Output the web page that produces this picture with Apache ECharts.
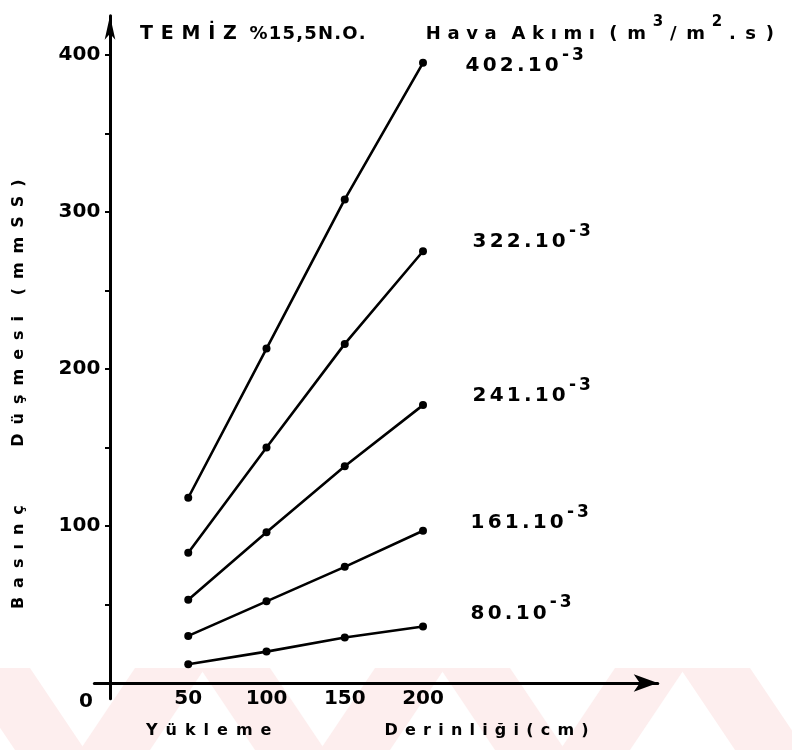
<!DOCTYPE html>
<html>
<head>
<meta charset="utf-8">
<script src="https://cdn.jsdelivr.net/npm/echarts@6/dist/echarts.min.js"></script>
<style>
  html, body { margin: 0; padding: 0; background: #fff; }
  #chart { width: 792px; height: 750px; }
</style>
</head>
<body>
<div id="chart"></div>
<script>
// Yükleme derinliği (cm)
const depths = [50, 100, 150, 200];
// Hava akımı etiketleri (x 10^-3 m3/m2.s)
const flowRates = ['402', '322', '241', '161', '80'];
// Basınç düşmesi (mmSS) her hava akımı için
const dp402 = [118, 213, 308, 395];
const dp322 = [83, 150, 216, 275];
const dp241 = [53, 96, 138, 177];
const dp161 = [30, 52, 74, 97];
const dp80 = [12, 20, 29, 36];
const pressureSets = [dp402, dp322, dp241, dp161, dp80];
// Eksen etiketleri
const xTickValues = [50, 100, 150, 200];
const yLabelValues = [100, 200, 300, 400];
const yTickValues = [50, 100, 150, 200, 250, 300, 350, 400];

const FONT = 'DejaVu Sans';
const INK = '#000';

// split a string into one rich token per character so letters can be tracked apart
const track = (s, cls) => Array.from(s).map(c => '{' + cls + '|' + c + '}').join('');

const letter = (size, pad, lh) => ({
  fontFamily: FONT, fontWeight: 'bold', fontSize: size, color: INK,
  padding: [0, pad, 0, pad], lineHeight: lh
});
const sup = (size, lh, pad) => ({
  fontFamily: FONT, fontWeight: 'bold', fontSize: size, color: INK,
  verticalAlign: 'top', lineHeight: lh, padding: [0, pad || 0, 0, pad || 0]
});

// end-label nudges for each curve [dx, dy]
const labelNudge = [[33, 3], [40, -9], [40, -9], [38, -8], [38, -13]];

const series = pressureSets.map((vals, i) => ({
  type: 'line',
  name: flowRates[i] + '.10-3',
  data: depths.map((d, k) => [d, vals[k]]),
  symbol: 'circle',
  symbolSize: 8,
  lineStyle: { color: INK, width: 2.6 },
  itemStyle: { color: INK },
  endLabel: {
    show: true,
    offset: labelNudge[i],
    formatter: () => track(flowRates[i] + '.10', 'n') + track('-3', 's'),
    rich: { n: letter(20, 1.6, 38), s: sup(17, 17, 1.5) }
  },
  z: 3
}));

// faint diagonal bands along the bottom edge of the sheet
const bands = [];
for (let k = 0; k < 4; k++) {
  const x0 = -40 + 240 * k;
  bands.push({
    type: 'polygon', silent: true, z: -10,
    shape: { points: [[x0, 668], [x0 + 70, 668], [x0 + 125, 750], [x0 + 55, 750]] },
    style: { fill: '#fdeeee' }
  });
  bands.push({
    type: 'polygon', silent: true, z: -10,
    shape: { points: [[x0 + 175, 668], [x0 + 245, 668], [x0 + 190, 750], [x0 + 120, 750]] },
    style: { fill: '#fdeeee' }
  });
}

const chart = echarts.init(document.getElementById('chart'), null, { renderer: 'canvas' });
chart.setOption({
  animation: false,
  backgroundColor: '#fff',
  title: {
    left: 131,
    top: 10,
    text: track('TEMİZ', 'c') + '{g| }' + track('%15,5N.O.', 't') + '{w| }' +
          track('Hava', 'h') + '{g| }' + track('Akımı', 'h') + '{k| }' +
          track('(m', 'p') + '{s|3}' + track('/m', 'p') + '{s|2}' + track('.s)', 'p'),
    textStyle: {
      rich: {
        c: letter(19, 3.9, 38),
        t: letter(18, 0.6, 38),
        h: letter(18, 3.3, 38),
        p: letter(18, 4.8, 38),
        g: letter(18, 1, 38),
        w: letter(18, 25, 38),
        k: letter(18, 0, 38),
        s: sup(15, 15, 2)
      }
    }
  },
  grid: {
    left: 94.35,
    top: 15.75,
    width: 563.4,
    height: 682.95,
    containLabel: false,
    outerBoundsMode: 'none'
  },
  xAxis: {
    type: 'value',
    min: -10,
    max: 350,
    name: track('Yükleme', 'a') + '{gap| }' + track('Derinliği(cm)', 'b'),
    nameLocation: 'middle',
    nameGap: 22,
    nameMoveOverlap: false,
    nameTextStyle: {
      padding: [0, 18, 0, 0],
      rich: {
        a: letter(16, 4, 20),
        b: letter(16, 3.6, 20),
        gap: letter(16, 50, 20)
      }
    },
    axisLine: {
      onZero: true,
      lineStyle: { color: INK, width: 3 },
      symbol: ['none', 'arrow'],
      symbolSize: [13, 24]
    },
    axisTick: { show: false },
    splitLine: { show: false },
    axisLabel: {
      customValues: xTickValues,
      margin: -10,
      color: INK,
      fontFamily: FONT,
      fontWeight: 'bold',
      fontSize: 20
    }
  },
  yAxis: {
    type: 'value',
    min: -10,
    max: 425,
    name: track('Basınç', 'a') + '{gap| }' + track('Düşmesi', 'a') + '{sp| }' + track('(mmSS)', 'a'),
    nameLocation: 'middle',
    nameRotate: 90,
    nameGap: 66,
    nameMoveOverlap: false,
    nameTextStyle: {
      padding: [0, 74, 0, 0],
      rich: {
        a: letter(16, 4.5, 20),
        gap: letter(16, 22, 20),
        sp: letter(16, 3, 20)
      }
    },
    axisLine: {
      onZero: true,
      lineStyle: { color: INK, width: 3 },
      symbol: ['none', 'arrow'],
      symbolSize: [8, 24]
    },
    axisTick: {
      show: true,
      customValues: yTickValues,
      length: 5,
      lineStyle: { color: INK, width: 2 }
    },
    splitLine: { show: false },
    axisLabel: {
      customValues: yLabelValues,
      margin: -6,
      color: INK,
      fontFamily: FONT,
      fontWeight: 'bold',
      fontSize: 20
    }
  },
  graphic: bands.concat([
    {
      type: 'text',
      left: 79,
      top: 692,
      style: { text: '0', fontFamily: FONT, fontWeight: 'bold', fontSize: 20, fill: INK }
    }
  ]),
  series: series
});
</script>
</body>
</html>
